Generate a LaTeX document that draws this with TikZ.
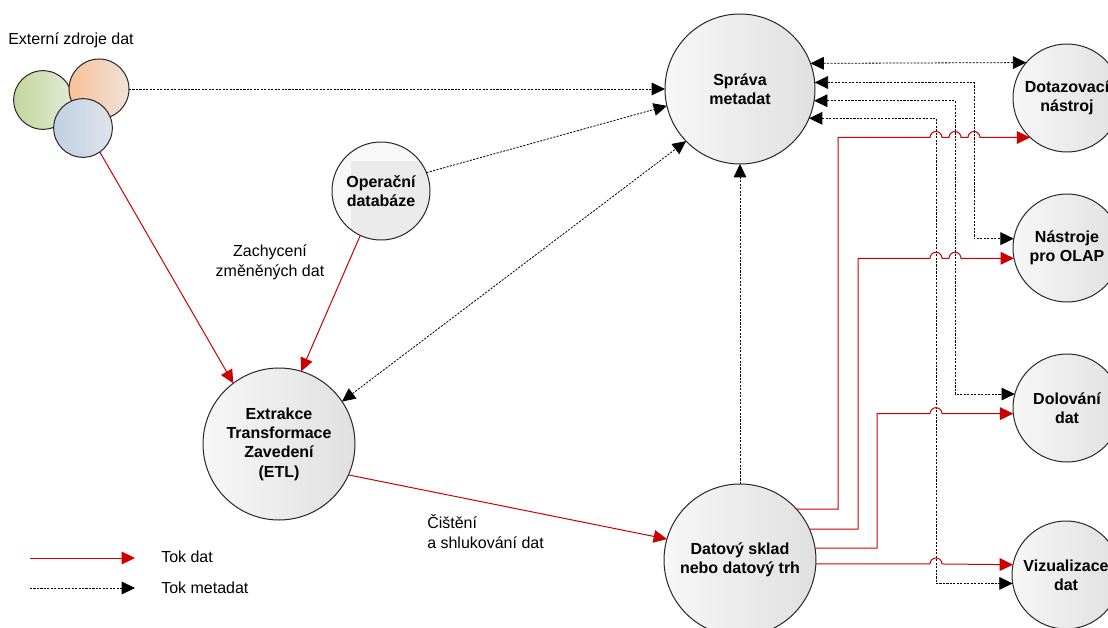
\documentclass[tikz,border=0pt]{standalone}
\usepackage{fontspec}
\setmainfont{Liberation Sans}
\usetikzlibrary{arrows.meta}
\definecolor{nodeL}{HTML}{F7F7F7}
\definecolor{nodeR}{HTML}{E0E0E0}
\definecolor{opL}{HTML}{F8F8F8}
\definecolor{opgrey}{HTML}{EBEBEB}
\definecolor{datared}{HTML}{CC0000}
\definecolor{g1}{HTML}{C3D69B}
\definecolor{g2}{HTML}{E3EAD6}
\definecolor{o1}{HTML}{F9C196}
\definecolor{o2}{HTML}{EFE2D9}
\definecolor{b1}{HTML}{C0D0E3}
\definecolor{b2}{HTML}{DFE3EA}
\begin{document}
\begin{tikzpicture}[x=0.75pt,y=-0.75pt,
  proc/.style={circle, draw=black!85, line width=0.75pt, inner sep=0pt, outer sep=0pt,
    left color=nodeL, right color=nodeR, font=\bfseries\fontsize{12}{14.5}\selectfont, align=center},
  src/.style={circle, draw=black!85, line width=0.75pt, inner sep=0pt, outer sep=0pt},
  data/.style={draw=datared, line width=0.75pt, -{Triangle[length=10pt,width=9.5pt]}},
  meta/.style={draw=black, line width=0.6pt, dash pattern=on 1.6pt off 1pt, -{Triangle[length=10pt,width=9.5pt]}},
  metab/.style={draw=black, line width=0.6pt, dash pattern=on 1.6pt off 1pt, {Triangle[length=10pt,width=9.5pt]}-{Triangle[length=10pt,width=9.5pt]}},
  lbl/.style={font=\fontsize{12}{15}\selectfont, inner sep=0pt}
]
\useasboundingbox (0,0) rectangle (1108,628);

% external sources
\node[src, minimum size=44pt, left color=g1, right color=g2] (ext1) at (43,100) {};
\node[src, minimum size=45pt, left color=o1, right color=o2] (ext2) at (99,89) {};
\node[src, minimum size=44pt, left color=b1, right color=b2] (ext3) at (83,128) {};
\node[lbl] (extl) at (71,40) {Externí zdroje dat};

% main nodes
\node[proc, minimum size=112.5pt] (sm) at (740,89) {Správa\\metadat};
\node[proc, minimum size=73.5pt, fill=opL, left color=opL, right color=opL,
  path picture={\fill[opgrey] ([shift={(-30,-30)}]path picture bounding box.center) rectangle (path picture bounding box.south east);}]
  (op) at (381,191) {Operační\\databáze};
\node[proc, minimum size=114pt] (etl) at (279,444) {Extrakce\\Transformace\\Zavedení\\(ETL)};
\node[proc, minimum size=114pt] (ds) at (740,560) {Datový sklad\\nebo datový trh};
\node[proc, minimum size=81pt] (dq) at (1067,98) {Dotazovací\\nástroj};
\node[proc, minimum size=81pt] (ol) at (1067,248) {Nástroje\\pro OLAP};
\node[proc, minimum size=81pt] (dm) at (1067,408) {Dolování\\dat};
\node[proc, minimum size=81pt] (vz) at (1066,575) {Vizualizace\\dat};

% labels
\node[lbl, align=center] (zach) at (270,262) {Zachycení\\změněných dat};
\node[lbl, align=left, anchor=west] (cist) at (427,532) {Čištění\\a shlukování dat};

% routing coordinates
\coordinate (r1) at (838,0);
\coordinate (r2) at (858,0);
\coordinate (r3) at (877,0);
\coordinate (v1) at (936,0);
\coordinate (v2) at (955,0);
\coordinate (v3) at (974,0);
\coordinate (j1) at (930,0);
\coordinate (j2) at (949,0);
\coordinate (j3) at (968,0);

% metadata flows
\draw[meta] (ext2.east) -- (sm.west);
\draw[meta] (op.22.4) -- (sm.193.9);
\draw[metab] (etl.34.9) -- (sm.224.5);
\draw[meta] (ds.north) -- (sm.south);
\draw[metab] (sm.20.3) -- (dq.139.6);
\draw[metab] (sm.5.35) -| (v3 |- ol.170.4) -- (ol.170.4);
\draw[metab] (sm.-9.2) -| (v2 |- dm.165) -- (dm.165);
\draw[metab] (sm.-23.6) -| (v1 |- vz.189.6) -- (vz.189.6);

% data flows
\draw[data] (ext3.-55.8) -- (etl.127.6);
\draw[data] (op.245.5) -- (etl.73);
\draw[data] (etl.-24.2) -- (ds.164.9);
\draw[data] (ds.42.2) -| (r1 |- dq.227.8) -- (j1 |- dq.227.8)
  arc[start angle=180,end angle=0,radius=4.5pt] -- (j2 |- dq.227.8)
  arc[start angle=180,end angle=0,radius=4.5pt] -- (j3 |- dq.227.8)
  arc[start angle=180,end angle=0,radius=4.5pt] -- (dq.227.8);
\draw[data] (ds.24.9) -| (r2 |- ol.191.75) -- (j1 |- ol.191.75)
  arc[start angle=180,end angle=0,radius=4.5pt] -- (j2 |- ol.191.75)
  arc[start angle=180,end angle=0,radius=4.5pt] -- (ol.191.75);
\draw[data] (ds.9.85) -| (r3 |- dm.186.4) -- (j1 |- dm.186.4)
  arc[start angle=180,end angle=0,radius=4.5pt] -- (dm.186.4);
\draw[data] (ds.-3.8) -- (j1 |- ds.-3.8)
  arc[start angle=180,end angle=0,radius=4.5pt] -- (vz.169.3);

% legend
\coordinate (la1) at (30,558);
\coordinate (la2) at (135,558);
\coordinate (lb1) at (30,588);
\coordinate (lb2) at (135,588);
\draw[data] (la1) -- (la2);
\draw[meta] (lb1) -- (lb2);
\node[lbl, anchor=west] (lt1) at (161,557) {Tok dat};
\node[lbl, anchor=west] (lt2) at (161,588) {Tok metadat};
\end{tikzpicture}
\end{document}
